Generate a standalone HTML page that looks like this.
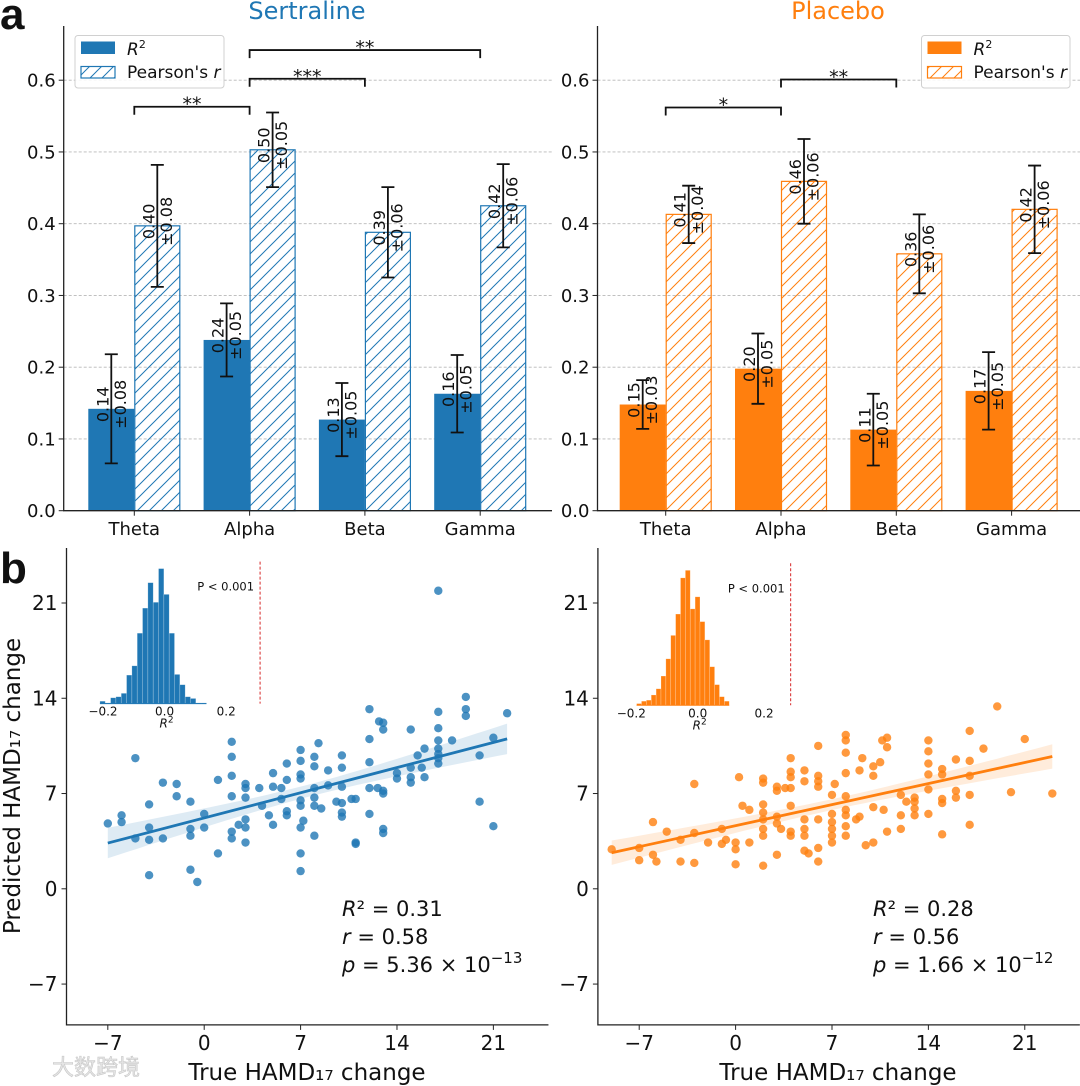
<!DOCTYPE html>
<html><head><meta charset="utf-8">
<style>
html,body{margin:0;padding:0;background:#fff;}
svg{display:block;font-family:"DejaVu Sans","Liberation Sans",sans-serif;}
</style></head>
<body>
<svg id="fig" width="1080" height="1086" viewBox="0 0 1080 1086" xmlns="http://www.w3.org/2000/svg">
<defs>
<pattern id="hatchBlue" patternUnits="userSpaceOnUse" width="12" height="12">
<path d="M-3,3 L3,-3 M0,12 L12,0 M9,15 L15,9" stroke="#1f77b4" stroke-width="1"/>
</pattern>
<pattern id="hatchOrange" patternUnits="userSpaceOnUse" width="12" height="12">
<path d="M-3,3 L3,-3 M0,12 L12,0 M9,15 L15,9" stroke="#ff7f0e" stroke-width="1"/>
</pattern>
</defs>
</svg>
<script>
// ---------- data ----------
const bands = ['Theta','Alpha','Beta','Gamma'];
const barTicks = [0.0,0.1,0.2,0.3,0.4,0.5,0.6];
const barTickLabels = ['0.0','0.1','0.2','0.3','0.4','0.5','0.6'];

const sertR2 = [0.142,0.238,0.127,0.163];
const sertR2Err = [0.076,0.051,0.051,0.054];
const sertR = [0.397,0.503,0.388,0.425];
const sertRErr = [0.085,0.052,0.063,0.058];
const sertR2Text = ['0.14','0.24','0.13','0.16'];
const sertR2ErrText = ['±0.08','±0.05','±0.05','±0.05'];
const sertRText = ['0.40','0.50','0.39','0.42'];
const sertRErrText = ['±0.08','±0.05','±0.06','±0.06'];
const sertBrackets = [[0,1,0.563,'**'],[1,2,0.602,'***'],[1,3,0.642,'**']];

const placR2 = [0.148,0.198,0.113,0.167];
const placR2Err = [0.034,0.049,0.050,0.054];
const placR = [0.413,0.459,0.358,0.420];
const placRErr = [0.040,0.059,0.055,0.061];
const placR2Text = ['0.15','0.20','0.11','0.17'];
const placR2ErrText = ['±0.03','±0.05','±0.05','±0.05'];
const placRText = ['0.41','0.46','0.36','0.42'];
const placRErrText = ['±0.04','±0.06','±0.06','±0.06'];
const placBrackets = [[0,1,0.562,'*'],[1,2,0.601,'**']];

const scatTicks = [-7,0,7,14,21];
const scatTickLabels = ['\u22127','0','7','14','21'];

const sertTrue = [-7,-6,-6,-5,-5,-4,-4,-4,-4,-3,-3,-2,-2,-1,-1,-1,-1,-0.5,0,0,1,1,2,2,2,2,2,2,2.5,3,3,3,3,3,3,4,4.2,4.7,5,5,5,5.6,5.6,6,6,6,6,7,7,7,7,7,7,7,7,7,7.2,8,8,8,8,8,8,8.3,8.5,9,9,9.6,10,10,10,10,10,10,10.7,11,11,11,12,12,12,12,12,12.6,12.7,13,13,13,13,13,13,14,14,15,15,15,15,15.5,15.8,16,16,17,17,17,17,17,17,17,17,18,19,19,19,20,20,21,21,22];
const sertPred = [4.8,5.4,4.9,9.6,3.7,6.2,4.5,3.6,1.0,7.8,3.7,7.7,6.8,6.4,4.4,3.9,1.4,0.5,5.5,4.5,8.0,2.6,10.8,9.7,8.3,6.8,4.2,3.7,4.7,7.7,7.4,6.7,5.1,4.5,3.4,7.4,6.1,5.4,8.5,7.5,4.7,7.4,6.6,9.2,8.0,5.7,5.4,10.2,9.4,8.4,8.1,6.5,6.1,4.5,2.6,1.3,5.0,9.7,9.0,7.4,6.7,6.1,3.9,10.7,5.9,8.7,7.6,6.4,9.8,8.9,7.5,6.3,5.6,5.3,6.6,6.6,3.4,3.3,13.2,11.0,9.3,7.4,5.5,7.4,12.3,12.2,11.7,7.2,7.0,4.4,4.1,8.5,8.1,11.7,8.9,8.2,7.8,9.8,8.9,10.3,8.2,13.0,11.8,10.9,10.3,9.9,9.6,9.2,21.9,10.9,14.1,13.2,12.7,9.8,6.4,11.1,4.6,12.9];
const sertFit = [5.21,0.264];
const sertBand = [0.2,0.005,7.5];

const placTrue = [-9,-7,-7,-6,-6,-5.75,-5,-4,-4,-3,-3,-3,-2,-1,-1,-0.7,0,0,0,0.25,0.5,1,1,2,2,2,2,2,2,2,2,3,3,3,3,3,3.3,3.6,4,4,4,4,4,4,4,5,5,5,5,5,5,5.3,6,6,6,6,6,6,6,7,7,7,7,7,7,7.2,8,8,8,8,8,8,8,8,8,8.75,9,9,9.2,9.45,10,10,10,10,10.5,10.65,10.75,11,11,11,12,12,12,12.4,13,13,13,13,14,14,14,14,14,14,15,15,15,15,15,16,16,16,17,17,17,17,17,18,19,20,21,23];
const placPred = [2.9,3.0,2.1,4.9,2.5,2.0,4.2,3.6,2.0,7.7,4.1,1.9,3.4,4.4,3.3,3.6,3.4,2.9,1.8,8.2,6.1,5.8,3.4,8.1,7.8,6.2,5.6,5.1,4.4,3.9,1.7,7.5,7.2,5.3,4.8,2.5,4.4,7.4,9.6,8.6,8.2,7.4,6.1,4.2,3.9,8.7,7.9,5.1,4.4,3.9,2.8,2.6,10.5,8.3,7.9,7.5,5.1,3.0,2.0,6.9,5.5,4.9,4.4,3.9,3.4,7.7,11.3,10.9,10.0,8.5,6.8,5.8,5.4,4.6,3.9,5.1,5.3,8.7,9.6,3.2,9.0,8.3,6.0,3.4,9.3,10.9,5.8,11.1,10.4,4.2,6.9,5.4,4.4,6.4,6.7,5.9,5.4,6.4,10.9,10.1,9.2,8.4,7.3,5.5,8.8,8.4,6.6,6.3,4.0,9.5,7.2,6.7,11.6,9.4,8.3,6.9,4.7,10.3,13.4,7.1,11.0,7.0];
const placFit = [4.64,0.221];
const placBand = [0.16,0.0025,7];

const sertHist = [7,2,17,20,30,83,110,205,278,352,295,393,318,205,85,55,20,15,2,2];
const sertHistRange = [-0.21,0.136];
const sertObsR2 = 0.31;
const placHist = [5,12,15,30,48,85,135,203,265,370,392,280,315,243,190,112,60,25,12];
const placHistRange = [-0.184,0.095];
const placObsR2 = 0.28;
const insetTicks = [-0.2,0.0,0.2];
const insetTickLabels = ['\u22120.2','0.0','0.2'];

// ---------- helpers ----------
const NS = 'http://www.w3.org/2000/svg';
const svg = document.getElementById('fig');
function mk(tag, attrs, parent){
  const el = document.createElementNS(NS, tag);
  for (const k in attrs) el.setAttribute(k, attrs[k]);
  (parent||svg).appendChild(el);
  return el;
}
function txt(str, attrs, parent){
  const el = mk('text', attrs, parent);
  el.textContent = str;
  return el;
}

// ---------- panel letters ----------
let el;
el = txt('a', {x:0, y:29, 'font-size':44, 'font-weight':'bold', 'font-family':'"Liberation Sans",sans-serif', fill:'#111'});


el = txt('b', {x:0, y:583, 'font-size':44, 'font-weight':'bold', 'font-family':'"Liberation Sans",sans-serif', fill:'#111'});



// ---------- bar panels ----------
function barPanel(cfg){
  const g = mk('g', {});
  
  
  const y = v => 510.7 - v*717.5;
  const x = i => cfg.cat0 + i*115.3;
  const bw = 46;
  barTicks.forEach((t,k) => {
    if (k>0){
      const gl = mk('line', {x1:cfg.spine, x2:cfg.right, y1:y(t), y2:y(t), stroke:'#b8b8b8', 'stroke-width':0.8, 'stroke-dasharray':'3,2'}, g);
      
      
    }
    const tk = mk('line', {x1:cfg.spine-5, x2:cfg.spine, y1:y(t), y2:y(t), stroke:'#222', 'stroke-width':1}, g);
    
    
    const tl = txt(barTickLabels[k], {x:cfg.spine-8, y:y(t)+6.5, 'font-size':18, 'text-anchor':'end', fill:'#111'}, g);
    
    
  });
  const ti = txt(cfg.title, {x:cfg.titleX, y:19, 'font-size':24, 'text-anchor':'middle', fill:cfg.color}, g);
  
  
  for (let i=0;i<bands.length;i++){
    const b1 = mk('rect', {x:x(i)-bw, y:y(cfg.r2[i]), width:bw, height:y(0)-y(cfg.r2[i]), fill:cfg.color}, g);
    
    
    const b2 = mk('rect', {x:x(i)+0.5, y:y(cfg.r[i]), width:bw-1, height:y(0)-y(cfg.r[i]), fill:'url(#'+cfg.hatch+')', stroke:cfg.color, 'stroke-width':1.2}, g);
    
    
    [[x(i)-bw/2, cfg.r2[i], cfg.r2e[i], cfg.r2t[i], cfg.r2et[i], 'r2'],
     [x(i)+bw/2, cfg.r[i], cfg.re[i], cfg.rt[i], cfg.ret[i], 'pearson']].forEach(d => {
      const cx = d[0];
      const eb = mk('path', {d:`M${cx},${y(d[1]-d[2])} L${cx},${y(d[1]+d[2])} M${cx-6.5},${y(d[1]-d[2])} L${cx+6.5},${y(d[1]-d[2])} M${cx-6.5},${y(d[1]+d[2])} L${cx+6.5},${y(d[1]+d[2])}`, stroke:'#111', 'stroke-width':1.8, fill:'none'}, g);
      
      
      const ly = y(d[1]) - 4.5;
      const l1 = txt(d[3], {x:0, y:0, 'font-size':16, 'text-anchor':'middle', fill:'#111', transform:`translate(${cx-3},${ly}) rotate(-90)`}, g);
      
      
      const l2 = txt(d[4], {x:0, y:0, 'font-size':16, 'text-anchor':'middle', fill:'#111', transform:`translate(${cx+14.5},${ly}) rotate(-90)`}, g);
      
      
    });
    const cl = txt(bands[i], {x:x(i), y:535, 'font-size':18, 'text-anchor':'middle', fill:'#111'}, g);
    
    
    const ct = mk('line', {x1:x(i), x2:x(i), y1:y(0), y2:y(0)+5, stroke:'#222', 'stroke-width':1}, g);
    
    
  }
  cfg.brackets.forEach(b => {
    const x1 = x(b[0]), x2 = x(b[1]), yy = y(b[2]);
    const br = mk('path', {d:`M${x1},${yy+8} L${x1},${yy} L${x2},${yy} L${x2},${yy+8}`, stroke:'#111', 'stroke-width':1.8, fill:'none'}, g);
    
    
    const st = txt(b[3], {x:(x1+x2)/2, y:yy+4, 'font-size':19, 'text-anchor':'middle', fill:'#111'}, g);
    
    
  });
  const sp = mk('path', {d:`M${cfg.spine},26 L${cfg.spine},${y(0)} L${cfg.right},${y(0)}`, stroke:'#222', 'stroke-width':1.3, fill:'none'}, g);
  
  
  const lg = mk('g', {}, g);
  
  
  const lx = cfg.legX;
  const fr = mk('rect', {x:lx, y:35.5, width:cfg.legW, height:52.5, rx:3, fill:'#fff', 'fill-opacity':0.85, stroke:'#d0d0d0', 'stroke-width':1}, lg);
  
  
  const p1 = mk('rect', {x:lx+6, y:41.5, width:34, height:12.5, fill:cfg.color}, lg);
  
  
  const p2 = mk('rect', {x:lx+6, y:66.5, width:34, height:11.5, fill:'url(#'+cfg.hatch+')', stroke:cfg.color, 'stroke-width':1.2}, lg);
  
  
  const t1 = txt('', {x:lx+52, y:55, 'font-size':17, fill:'#111'}, lg);
  t1.innerHTML = '<tspan font-style="italic">R</tspan><tspan font-size="11" dy="-7">2</tspan>';
  
  
  const t2 = txt('', {x:lx+52, y:78, 'font-size':17, fill:'#111'}, lg);
  t2.innerHTML = "Pearson's <tspan font-style=\"italic\">r</tspan>";
  
  
}

barPanel({name:'sertraline-bar-chart', spine:63.7, right:552, cat0:134.3, color:'#1f77b4', hatch:'hatchBlue', title:'Sertraline', titleX:307,
  r2:sertR2, r2e:sertR2Err, r:sertR, re:sertRErr, r2t:sertR2Text, r2et:sertR2ErrText, rt:sertRText, ret:sertRErrText, brackets:sertBrackets, legX:75, legW:149});
barPanel({name:'placebo-bar-chart', spine:597.5, right:1080, cat0:665.7, color:'#ff7f0e', hatch:'hatchOrange', title:'Placebo', titleX:838,
  r2:placR2, r2e:placR2Err, r:placR, re:placRErr, r2t:placR2Text, r2et:placR2ErrText, rt:placRText, ret:placRErrText, brackets:placBrackets, legX:921.5, legW:148.5});

// ---------- scatter panels ----------
function scatterPanel(cfg){
  const g = mk('g', {});
  
  
  const X = v => cfg.spine + (v+10)*13.77;
  const Y = v => 888.8 - v*13.61;
  scatTicks.forEach((t,k) => {
    const a = mk('line', {x1:cfg.spine-5, x2:cfg.spine, y1:Y(t), y2:Y(t), stroke:'#222', 'stroke-width':1}, g);
    
    
    const al = txt(scatTickLabels[k], {x:cfg.spine-9, y:Y(t)+7, 'font-size':20, 'text-anchor':'end', fill:'#111'}, g);
    
    
    const b = mk('line', {x1:X(t), x2:X(t), y1:Y(-10), y2:Y(-10)+5, stroke:'#222', 'stroke-width':1}, g);
    
    
    const bl = txt(scatTickLabels[k], {x:X(t), y:1050, 'font-size':20, 'text-anchor':'middle', fill:'#111'}, g);
    
    
  });
  const xs = cfg.xs, ys = cfg.ys;
  const xmin = Math.min(...xs), xmax = Math.max(...xs);
  const f = v => cfg.fit[0] + cfg.fit[1]*v;
  const hw = v => Math.sqrt(cfg.band[0] + cfg.band[1]*(v-cfg.band[2])*(v-cfg.band[2]));
  let up = [], dn = [];
  for (let k=0;k<=40;k++){
    const v = xmin + (xmax-xmin)*k/40;
    up.push(`${X(v).toFixed(1)},${Y(f(v)+hw(v)).toFixed(1)}`);
    dn.unshift(`${X(v).toFixed(1)},${Y(f(v)-hw(v)).toFixed(1)}`);
  }
  const band = mk('polygon', {points:up.concat(dn).join(' '), fill:cfg.color, 'fill-opacity':0.15}, g);
  
  
  const n = Math.min(xs.length, ys.length);
  for (let k=0;k<n;k++){
    const c = mk('circle', {cx:X(xs[k]), cy:Y(ys[k]), r:4.2, fill:cfg.color, 'fill-opacity':0.8}, g);
    
    
  }
  const ln = mk('line', {x1:X(xmin), y1:Y(f(xmin)), x2:X(xmax), y2:Y(f(xmax)), stroke:cfg.color, 'stroke-width':2.8}, g);
  
  
  const sp = mk('path', {d:`M${cfg.spine},548 L${cfg.spine},${Y(-10)} L${X(25)},${Y(-10)}`, stroke:'#222', 'stroke-width':1.3, fill:'none'}, g);
  
  
  const sx = cfg.statX;
  const s1 = txt('', {x:sx, y:916, 'font-size':21, fill:'#111'}, g);
  s1.innerHTML = '<tspan font-style="italic">R</tspan>² = ' + cfg.stats[0];
  
  
  const s2 = txt('', {x:sx, y:944, 'font-size':21, fill:'#111'}, g);
  s2.innerHTML = '<tspan font-style="italic">r</tspan> = ' + cfg.stats[1];
  
  
  const s3 = txt('', {x:sx, y:972, 'font-size':21, fill:'#111'}, g);
  s3.innerHTML = '<tspan font-style="italic">p</tspan> = ' + cfg.stats[2] + ' × 10<tspan font-size="15" dy="-9">\u2212' + cfg.stats[3] + '</tspan>';
  
  
  const xl = txt('True HAMD\u2081\u2087 change', {x:cfg.xlabX, y:1080, 'font-size':23, 'text-anchor':'middle', fill:'#111'}, g);
  
  
  const ig = mk('g', {}, g);
  
  
  const IX = v => cfg.inset0 + v*cfg.insetScale;
  const base = cfg.insetBase;
  const hmax = Math.max(...cfg.hist);
  const bwid = (cfg.histRange[1]-cfg.histRange[0])/cfg.hist.length;
  cfg.hist.forEach((h,k) => {
    const v0 = cfg.histRange[0] + k*bwid;
    const hh = h/hmax*135;
    const r = mk('rect', {x:IX(v0), y:base-hh, width:IX(v0+bwid)-IX(v0), height:hh, fill:cfg.color, stroke:'#ffffff', 'stroke-opacity':0.35, 'stroke-width':0.6}, ig);
    
    
  });
  const hb = mk('line', {x1:IX(cfg.histRange[0]), x2:IX(cfg.histRange[1]), y1:base, y2:base, stroke:cfg.color, 'stroke-width':1}, ig);
  
  
  const rl = mk('line', {x1:IX(cfg.obs), x2:IX(cfg.obs), y1:base-142, y2:base, stroke:'#d62728', 'stroke-width':1, 'stroke-dasharray':'3,2'}, ig);
  
  
  insetTicks.forEach((t,k) => {
    const it = txt(insetTickLabels[k], {x:IX(t), y:base+12, 'font-size':12, 'text-anchor':'middle', fill:'#111'}, ig);
    
    
  });
  const ixl = txt('', {x:IX(0)+2, y:base+24, 'font-size':12, 'text-anchor':'middle', fill:'#111'}, ig);
  ixl.innerHTML = '<tspan font-style="italic">R</tspan><tspan font-size="9" dy="-5">2</tspan>';
  
  
  const pt = txt('P < 0.001', {x:IX(cfg.obs)-6, y:base-113, 'font-size':11.5, 'text-anchor':'end', fill:'#111'}, ig);
  
  
}

scatterPanel({name:'sertraline-scatter', spine:66.5, color:'#1f77b4', xs:sertTrue, ys:sertPred, fit:sertFit, band:sertBand,
  stats:['0.31','0.58','5.36','13'], statX:342, xlabX:307,
  hist:sertHist, histRange:sertHistRange, obs:sertObsR2, inset0:164.6, insetScale:308, insetBase:703.6});
scatterPanel({name:'placebo-scatter', spine:597.9, color:'#ff7f0e', xs:placTrue, ys:placPred, fit:placFit, band:placBand,
  stats:['0.28','0.56','1.66','12'], statX:873, xlabX:838,
  hist:placHist, histRange:placHistRange, obs:placObsR2, inset0:697.7, insetScale:332, insetBase:705.3});

el = txt('Predicted HAMD\u2081\u2087 change', {x:0, y:0, 'font-size':23, 'text-anchor':'middle', fill:'#111', transform:'translate(20,786) rotate(-90)'});



el = txt('\u5927\u6570\u8de8\u5883', {x:52, y:1075, 'font-size':22, fill:'#e6e6e6', stroke:'#c8c8c8', 'stroke-width':0.6, 'font-family':'"Noto Sans CJK SC",sans-serif'});


</script>
</body></html>
